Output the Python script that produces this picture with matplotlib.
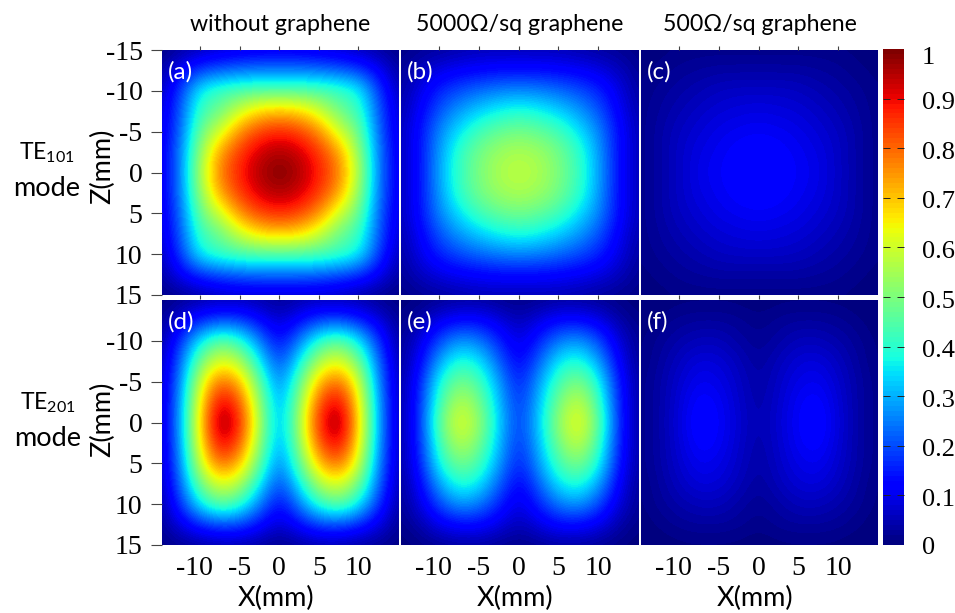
import numpy as np
import matplotlib
matplotlib.use('Agg')
import matplotlib.pyplot as plt
from matplotlib.colors import Normalize
from matplotlib.cm import ScalarMappable
from matplotlib.transforms import ScaledTranslation

plt.rcParams['mathtext.fontset'] = 'custom'
plt.rcParams['mathtext.rm'] = 'Lato'
plt.rcParams['mathtext.default'] = 'regular'
plt.rcParams['axes.unicode_minus'] = False

x_mm = [-15, -12.5, -10, -7.5, -5, -2.5, 0, 2.5, 5, 7.5, 10, 12.5, 15]
z_mm = [-15, -12.5, -10, -7.5, -5, -2.5, 0, 2.5, 5, 7.5, 10, 12.5, 15]

panel_a = [
 [.01,.03,.05,.07,.08,.09,.09,.09,.08,.07,.05,.03,.01],
 [.03,.11,.18,.21,.23,.24,.24,.24,.23,.21,.18,.11,.03],
 [.05,.18,.37,.42,.44,.45,.45,.45,.44,.42,.37,.18,.05],
 [.07,.21,.42,.48,.60,.68,.70,.68,.60,.48,.42,.21,.07],
 [.08,.22,.48,.60,.76,.84,.87,.84,.76,.60,.48,.22,.08],
 [.09,.24,.53,.74,.85,.93,.96,.93,.85,.74,.53,.24,.09],
 [.09,.24,.56,.78,.88,.96,1.0,.96,.88,.78,.56,.24,.09],
 [.09,.24,.53,.74,.85,.93,.96,.93,.85,.74,.53,.24,.09],
 [.08,.22,.48,.60,.76,.84,.87,.84,.76,.60,.48,.22,.08],
 [.07,.21,.42,.48,.60,.68,.70,.68,.60,.48,.42,.21,.07],
 [.05,.18,.37,.42,.44,.45,.45,.45,.44,.42,.37,.18,.05],
 [.03,.11,.17,.20,.22,.23,.23,.23,.22,.20,.17,.11,.03],
 [.01,.02,.04,.06,.07,.07,.07,.07,.07,.06,.04,.02,.01],
]
panel_b = [
 [.01,.02,.03,.04,.05,.05,.05,.05,.05,.04,.03,.02,.01],
 [.02,.06,.09,.11,.12,.13,.13,.13,.12,.11,.09,.06,.02],
 [.03,.09,.16,.20,.23,.25,.26,.25,.23,.20,.16,.09,.03],
 [.04,.11,.21,.28,.33,.37,.39,.37,.33,.28,.21,.11,.04],
 [.05,.13,.26,.35,.43,.47,.49,.47,.43,.35,.26,.13,.05],
 [.05,.13,.28,.41,.49,.54,.56,.54,.49,.41,.28,.13,.05],
 [.05,.13,.29,.42,.50,.56,.58,.56,.50,.42,.29,.13,.05],
 [.05,.13,.28,.41,.49,.54,.56,.54,.49,.41,.28,.13,.05],
 [.05,.13,.26,.35,.43,.47,.49,.47,.43,.35,.26,.13,.05],
 [.04,.11,.21,.28,.33,.37,.39,.37,.33,.28,.21,.11,.04],
 [.03,.09,.16,.20,.23,.25,.26,.25,.23,.20,.16,.09,.03],
 [.02,.06,.09,.11,.12,.13,.13,.13,.12,.11,.09,.06,.02],
 [.01,.02,.03,.04,.05,.05,.05,.05,.05,.04,.03,.02,.01],
]
panel_c = [
 [.005,.005,.01,.012,.012,.012,.012,.012,.012,.012,.01,.005,.005],
 [.005,.012,.024,.03,.035,.035,.035,.035,.035,.03,.024,.012,.005],
 [.01,.024,.036,.048,.06,.065,.065,.065,.06,.048,.036,.024,.01],
 [.012,.03,.048,.065,.078,.085,.09,.085,.078,.065,.048,.03,.012],
 [.012,.036,.06,.078,.095,.105,.11,.105,.095,.078,.06,.036,.012],
 [.012,.036,.065,.09,.105,.12,.125,.12,.105,.09,.065,.036,.012],
 [.012,.036,.065,.095,.11,.125,.13,.125,.11,.095,.065,.036,.012],
 [.012,.036,.065,.09,.105,.12,.125,.12,.105,.09,.065,.036,.012],
 [.012,.036,.06,.078,.095,.105,.11,.105,.095,.078,.06,.036,.012],
 [.012,.03,.048,.065,.078,.085,.09,.085,.078,.065,.048,.03,.012],
 [.01,.024,.036,.048,.06,.065,.065,.065,.06,.048,.036,.024,.01],
 [.005,.012,.024,.03,.035,.035,.035,.035,.035,.03,.024,.012,.005],
 [.005,.005,.01,.012,.012,.012,.012,.012,.012,.012,.01,.005,.005],
]
panel_d = [
 [.01,.02,.04,.05,.05,.04,.02,.04,.05,.05,.04,.02,.01],
 [.02,.09,.16,.20,.19,.13,.07,.13,.19,.20,.16,.09,.02],
 [.03,.17,.36,.47,.41,.25,.12,.25,.41,.47,.36,.17,.03],
 [.04,.22,.49,.63,.57,.36,.18,.36,.57,.63,.49,.22,.04],
 [.05,.25,.60,.81,.72,.46,.23,.46,.72,.81,.60,.25,.05],
 [.05,.27,.66,.93,.83,.52,.26,.52,.83,.93,.66,.27,.05],
 [.05,.28,.68,1.0,.88,.55,.27,.55,.88,1.0,.68,.28,.05],
 [.05,.27,.66,.93,.83,.52,.26,.52,.83,.93,.66,.27,.05],
 [.05,.25,.60,.81,.72,.46,.23,.46,.72,.81,.60,.25,.05],
 [.04,.22,.49,.63,.57,.36,.18,.36,.57,.63,.49,.22,.04],
 [.03,.17,.36,.47,.41,.25,.12,.25,.41,.47,.36,.17,.03],
 [.02,.09,.16,.20,.19,.13,.07,.13,.19,.20,.16,.09,.02],
 [.01,.02,.03,.04,.04,.03,.01,.03,.04,.04,.03,.02,.01],
]
panel_e = [
 [.00,.01,.02,.03,.03,.02,.01,.02,.03,.03,.02,.01,.00],
 [.01,.04,.10,.13,.13,.09,.05,.09,.13,.13,.10,.04,.01],
 [.02,.08,.20,.28,.25,.16,.08,.16,.25,.28,.20,.08,.02],
 [.02,.11,.29,.40,.36,.22,.11,.22,.36,.40,.29,.11,.02],
 [.03,.14,.38,.50,.44,.28,.14,.28,.44,.51,.38,.14,.03],
 [.03,.15,.43,.58,.50,.31,.16,.31,.50,.60,.43,.15,.03],
 [.03,.16,.47,.63,.54,.33,.17,.33,.54,.65,.47,.16,.03],
 [.03,.15,.43,.58,.50,.31,.16,.31,.50,.60,.43,.15,.03],
 [.03,.14,.38,.50,.44,.28,.14,.28,.44,.51,.38,.14,.03],
 [.02,.11,.29,.40,.36,.22,.11,.22,.36,.40,.29,.11,.02],
 [.02,.08,.20,.28,.25,.16,.08,.16,.25,.28,.20,.08,.02],
 [.01,.04,.10,.13,.13,.09,.05,.09,.13,.13,.10,.04,.01],
 [.00,.01,.02,.03,.03,.02,.01,.02,.03,.03,.02,.01,.00],
]
panel_f = [
 [.00,.00,.005,.006,.006,.005,.00,.005,.006,.006,.005,.00,.00],
 [.00,.012,.024,.03,.03,.024,.012,.024,.03,.03,.024,.012,.00],
 [.006,.024,.042,.055,.055,.036,.02,.036,.055,.055,.042,.024,.006],
 [.006,.03,.06,.085,.08,.055,.028,.055,.08,.085,.06,.03,.006],
 [.012,.036,.072,.105,.095,.065,.034,.065,.095,.105,.072,.036,.012],
 [.012,.036,.08,.125,.11,.07,.038,.07,.11,.125,.08,.036,.012],
 [.012,.036,.085,.135,.115,.075,.042,.075,.115,.135,.085,.036,.012],
 [.012,.036,.08,.125,.11,.07,.038,.07,.11,.125,.08,.036,.012],
 [.012,.036,.072,.105,.095,.065,.034,.065,.095,.105,.072,.036,.012],
 [.006,.03,.06,.085,.08,.055,.028,.055,.08,.085,.06,.03,.006],
 [.006,.024,.042,.055,.055,.036,.02,.036,.055,.055,.042,.024,.006],
 [.00,.012,.024,.03,.03,.024,.012,.024,.03,.03,.024,.012,.00],
 [.00,.00,.005,.006,.006,.005,.00,.005,.006,.006,.005,.00,.00],
]
panel_labels = ['(a)', '(b)', '(c)', '(d)', '(e)', '(f)']
column_titles = ['without graphene', '5000Ω/sq graphene', '500Ω/sq graphene']
x_ticks = [-10, -5, 0, 5, 10]
z_ticks_top = [-15, -10, -5, 0, 5, 10, 15]
z_ticks_bottom = [-10, -5, 0, 5, 10, 15]
cbar_ticks = [0, .1, .2, .3, .4, .5, .6, .7, .8, .9, 1]
cbar_labels = ['0', '0.1', '0.2', '0.3', '0.4', '0.5', '0.6', '0.7', '0.8', '0.9', '1']

W, H = 955, 613
fig = plt.figure(figsize=(W / 100, H / 100), dpi=100, facecolor='white')
SERIF = 'Liberation Serif'
SANS = ['Lato', 'DejaVu Sans']
LABEL_SIZE = 19.5


def axes_px(l, t, r, b):
    return fig.add_axes([l / W, 1 - b / H, (r - l) / W, (b - t) / H])


cols = [(162, 398), (401, 638), (641, 878)]
rows = [(50, 295), (300, 545)]
data = [panel_a, panel_b, panel_c, panel_d, panel_e, panel_f]
cmap = plt.get_cmap('jet', 100)
norm = Normalize(0, 1)
step_x = (x_mm[1] - x_mm[0]) / 2
step_z = (z_mm[1] - z_mm[0]) / 2

for i, vals in enumerate(data):
    rw, cl = divmod(i, 3)
    ax = axes_px(cols[cl][0], rows[rw][0], cols[cl][1], rows[rw][1])
    ax.imshow(np.array(vals), cmap=cmap, norm=norm, interpolation='bicubic',
              interpolation_stage='data', aspect='auto',
              extent=[x_mm[0] - step_x, x_mm[-1] + step_x, z_mm[-1] + step_z, z_mm[0] - step_z])
    ax.set_xlim(-14.8, 15)
    ax.set_ylim(15, -15)
    for s in ax.spines.values():
        s.set_visible(False)
    ax.set_xticks(x_ticks)
    ax.set_yticks(z_ticks_top if rw == 0 else z_ticks_bottom)
    ax.tick_params(axis='y', left=cl == 0, labelleft=cl == 0, length=8, width=0.8,
                   color='#444444', labelsize=20, pad=6)
    if rw == 0:
        ax.tick_params(axis='x', top=True, bottom=True, labelbottom=False, length=3,
                       width=0.8, color='#444444')
    else:
        ax.tick_params(axis='x', top=False, bottom=False, labelbottom=True, length=0,
                       labelsize=20, pad=8)
        ax.set_xlabel('X(mm)', fontsize=LABEL_SIZE, family=SANS, va='center')
        ax.xaxis.set_label_coords(0.482, -0.22)
        first = ax.xaxis.get_major_ticks()[0].label1
        first.set_transform(first.get_transform() + ScaledTranslation(-5.5 / 100, 0, fig.dpi_scale_trans))
    for lab in ax.get_xticklabels() + ax.get_yticklabels():
        lab.set_family(SERIF)
    if cl == 0:
        ax.set_ylabel('Z(mm)', fontsize=LABEL_SIZE, family=SANS, va='center')
        ax.yaxis.set_label_coords(-0.25, 0.527 if rw == 0 else 0.514)
    if rw == 0:
        ax.set_title(column_titles[cl], fontsize=16.7, family=SANS, pad=14)
    ax.text(0.025, 0.955, panel_labels[i], transform=ax.transAxes, color='white',
            fontsize=17.5, family=SANS, va='top', ha='left')

cax = axes_px(883, 49, 904, 545)
cb = fig.colorbar(ScalarMappable(norm=norm, cmap=cmap), cax=cax, ticks=cbar_ticks)
cb.outline.set_visible(False)
cb.ax.set_yticklabels(cbar_labels, family=SERIF, fontsize=19)
cb.ax.tick_params(axis='y', direction='in', length=5, width=0.7, left=True, right=True,
                  color='#222222', pad=13)
for k, tick in enumerate(cb.ax.yaxis.get_major_ticks()):
    if k in (0, len(cbar_ticks) - 1):
        tick.tick1line.set_visible(False)
        tick.tick2line.set_visible(False)
    down = 0 if k == 0 else (6 if k == len(cbar_ticks) - 1 else 2)
    lab = tick.label2
    lab.set_transform(lab.get_transform() + ScaledTranslation(0, -down / 100, fig.dpi_scale_trans))

MODE_SIZE = 19.5
TE_SIZE = 16.5
fig.text(47 / W, 1 - 153 / H, 'TE$_{101}$', fontsize=TE_SIZE, family=SANS, ha='center', va='center')
fig.text(47 / W, 1 - 188 / H, 'mode', fontsize=MODE_SIZE, family=SANS, ha='center', va='center')
fig.text(48 / W, 1 - 403 / H, 'TE$_{201}$', fontsize=TE_SIZE, family=SANS, ha='center', va='center')
fig.text(47.5 / W, 1 - 439 / H, 'mode', fontsize=MODE_SIZE, family=SANS, ha='center', va='center')

fig.savefig('out.png', dpi=100, facecolor='white')
